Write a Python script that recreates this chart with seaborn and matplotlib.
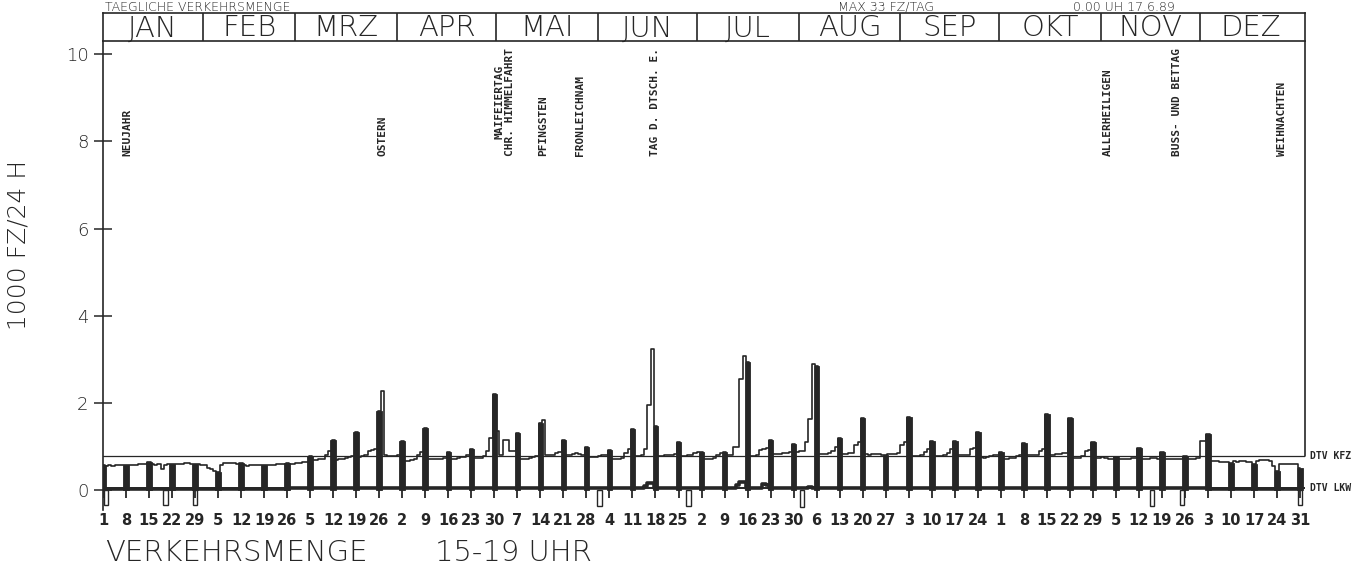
import numpy as np
import pandas as pd
import matplotlib
matplotlib.use("Agg")
import matplotlib.pyplot as plt
import seaborn as sns

# Verkehrsmenge 15-19 Uhr, 1989, in 1000 Fz
neujahr_kfz = 0.57
kfz_wochen = [  # Mo    Di    Mi    Do    Fr    Sa    So
    [0.56, 0.57, 0.56, 0.57, 0.58, 0.57, 0.57],  # Jan 2-8
    [0.58, 0.57, 0.59, 0.60, 0.61, 0.60, 0.66],
    [0.60, 0.59, 0.61, 0.50, 0.58, 0.60, 0.60],
    [0.60, 0.61, 0.60, 0.62, 0.63, 0.61, 0.60],
    [0.60, 0.58, 0.57, 0.52, 0.50, 0.44, 0.42],
    [0.58, 0.62, 0.62, 0.63, 0.62, 0.60, 0.62],
    [0.57, 0.56, 0.58, 0.59, 0.58, 0.57, 0.57],
    [0.57, 0.58, 0.59, 0.60, 0.61, 0.60, 0.63],
    [0.60, 0.61, 0.62, 0.63, 0.64, 0.66, 0.78],
    [0.70, 0.70, 0.71, 0.72, 0.80, 0.90, 1.15],
    [0.70, 0.71, 0.73, 0.74, 0.76, 0.78, 1.33],
    [0.76, 0.78, 0.80, 0.90, 0.92, 0.95, 1.82],  # Ostern
    [2.27, 0.80, 0.78, 0.78, 0.78, 0.80, 1.13],
    [0.68, 0.68, 0.70, 0.72, 0.80, 0.88, 1.43],
    [0.72, 0.72, 0.71, 0.72, 0.72, 0.74, 0.88],
    [0.72, 0.72, 0.74, 0.76, 0.76, 0.80, 0.95],
    [0.74, 0.74, 0.75, 0.78, 0.90, 1.21, 2.20],
    [1.35, 0.80, 1.16, 1.16, 0.90, 0.90, 1.31],
    [0.72, 0.72, 0.73, 0.74, 0.76, 0.78, 1.55],  # Pfingsten
    [1.62, 0.80, 0.80, 0.82, 0.86, 0.88, 1.15],
    [0.82, 0.82, 0.84, 0.86, 0.84, 0.82, 1.00],
    [0.76, 0.76, 0.77, 0.78, 0.80, 0.82, 0.93],
    [0.72, 0.72, 0.73, 0.74, 0.86, 0.95, 1.40],
    [0.78, 0.78, 0.80, 0.95, 1.96, 3.25, 1.47],  # 17. Juni
    [0.78, 0.78, 0.80, 0.80, 0.82, 0.84, 1.10],
    [0.78, 0.78, 0.80, 0.82, 0.85, 0.88, 0.88],
    [0.72, 0.72, 0.73, 0.74, 0.80, 0.86, 0.87],
    [0.80, 0.82, 1.00, 1.00, 2.56, 3.09, 2.95],
    [0.78, 0.78, 0.80, 0.92, 0.95, 0.96, 1.15],
    [0.83, 0.83, 0.84, 0.85, 0.86, 0.87, 1.07],
    [0.88, 0.90, 0.90, 1.10, 1.64, 2.90, 2.85],
    [0.83, 0.83, 0.84, 0.85, 0.90, 1.00, 1.20],
    [0.84, 0.84, 0.85, 0.86, 1.05, 1.10, 1.65],
    [0.83, 0.82, 0.83, 0.84, 0.83, 0.82, 0.82],
    [0.83, 0.83, 0.84, 0.85, 1.05, 1.10, 1.68],
    [0.78, 0.78, 0.79, 0.80, 0.88, 0.95, 1.13],
    [0.78, 0.78, 0.78, 0.80, 0.86, 0.95, 1.13],
    [0.80, 0.80, 0.81, 0.82, 0.95, 0.97, 1.34],
    [0.76, 0.75, 0.76, 0.78, 0.80, 0.82, 0.87],
    [0.73, 0.73, 0.74, 0.75, 0.78, 0.80, 1.08],
    [0.80, 0.80, 0.80, 0.82, 0.90, 0.95, 1.75],
    [0.82, 0.82, 0.83, 0.84, 0.85, 0.86, 1.65],
    [0.74, 0.74, 0.75, 0.78, 0.90, 0.93, 1.10],
    [0.74, 0.74, 0.76, 0.74, 0.73, 0.72, 0.77],
    [0.72, 0.72, 0.72, 0.73, 0.74, 0.74, 0.97],
    [0.72, 0.72, 0.72, 0.74, 0.75, 0.72, 0.87],
    [0.71, 0.71, 0.72, 0.72, 0.72, 0.72, 0.78],
    [0.71, 0.71, 0.72, 0.74, 1.14, 1.14, 1.30],
    [0.67, 0.68, 0.67, 0.66, 0.66, 0.64, 0.63],
    [0.67, 0.66, 0.67, 0.67, 0.66, 0.65, 0.60],
    [0.68, 0.69, 0.70, 0.70, 0.68, 0.56, 0.44],
    [0.60, 0.61, 0.61, 0.61, 0.61, 0.60, 0.52],  # Dez 25-31
]

neujahr_lkw = 0.03
lkw_wochen = [0.04, 0.04, 0.04, 0.04, 0.04, 0.04, 0.04, 0.04, 0.05, 0.05,
              0.05, 0.05, 0.05, 0.05, 0.05, 0.05, 0.06, 0.05, 0.05, 0.05,
              0.05, 0.05, 0.05, 0.05, 0.05, 0.05, 0.05, 0.05, 0.05, 0.05,
              0.05, 0.05, 0.05, 0.05, 0.05, 0.05, 0.05, 0.05, 0.05, 0.05,
              0.05, 0.05, 0.05, 0.05, 0.05, 0.05, 0.05, 0.05, 0.04, 0.04,
              0.04, 0.04]
lkw_spitzen = {166: 0.10, 167: 0.16, 168: 0.18, 194: 0.12, 195: 0.19,
               196: 0.20, 202: 0.14, 203: 0.12, 216: 0.08}

dtv_kfz = 0.78
dtv_lkw = 0.05

# Tage ohne Messwert (Kaesten unter der Nulllinie)
luecken_tag = [1.9, 20, 29, 152, 179, 213.5, 320, 329, 365]
luecken_wert = [-0.33, -0.33, -0.33, -0.35, -0.35, -0.37, -0.35, -0.33, -0.33]

feiertag_namen = ["NEUJAHR", "OSTERN", "MAIFEIERTAG\nCHR. HIMMELFAHRT",
                  "PFINGSTEN", "FRONLEICHNAM", "TAG D. DTSCH. E.",
                  "ALLERHEILIGEN", "BUSS- UND BETTAG", "WEIHNACHTEN"]
feiertag_pos = [8.3, 86.1, 123.2, 134.8, 146.0, 168.8, 306.6, 327.6, 359.5]

monate = ["JAN", "FEB", "MRZ", "APR", "MAI", "JUN",
          "JUL", "AUG", "SEP", "OKT", "NOV", "DEZ"]

# Tagesreihen zusammenbauen
dates = pd.date_range("1989-01-01", "1989-12-31", freq="D")
day = np.arange(1, len(dates) + 1)
kfz = np.array([neujahr_kfz] + [v for w in kfz_wochen for v in w])
lkw = np.array([neujahr_lkw] + [v for v in lkw_wochen for _ in range(7)])
for d, v in lkw_spitzen.items():
    lkw[d - 1] = v
sonntage = day[dates.dayofweek == 6]
sonntag_labels = [str(d.day) for d in dates[dates.dayofweek == 6]]
monat_start = list(day[dates.is_month_start]) + [366]

INK = "#262626"
LIGHT = dict(family="DejaVu Sans", weight="light", color=INK)
MONO = dict(family="DejaVu Sans Mono", weight="bold", color=INK)

sns.set_style("white")
plt.rcParams["font.family"] = ["DejaVu Sans"]

W, H = 1359, 567
fig = plt.figure(figsize=(W / 100, H / 100), dpi=100)
ax = fig.add_axes([103 / W, 1 - 510 / H, 1202 / W, 469 / H])
ax_h = fig.add_axes([103 / W, 1 - 41 / H, 1202 / W, 28 / H])

XL = (1.0, 366.5)
ax.set_xlim(*XL)
ax.set_ylim(-0.45, 10.3)

# Kfz-Tageswerte als Treppenlinie, Sonntage als volle Balken
sns.lineplot(x=day, y=kfz, drawstyle="steps-mid", color=INK, lw=1.2, ax=ax)
ax.bar(sonntage, kfz[sonntage - 1], width=1.7, color=INK, edgecolor=INK, lw=0.6)
sns.lineplot(x=day, y=lkw, drawstyle="steps-mid", color=INK, lw=2.6, ax=ax)
ax.bar(luecken_tag, luecken_wert, width=1.3, fill=False, edgecolor=INK, lw=1.0)

ax.plot(XL, [dtv_kfz, dtv_kfz], color=INK, lw=0.9)
ax.plot(XL, [dtv_lkw, dtv_lkw], color=INK, lw=1.4)
ax.plot([XL[1], XL[1]], [dtv_kfz, 10.3], color=INK, lw=1.2, clip_on=False)
ax.vlines(sonntage, -0.17, 0, color=INK, lw=1.3)

ax.text(XL[1] + 1.5, dtv_kfz, "DTV KFZ", ha="left", va="center",
        fontsize=7, clip_on=False, **MONO)
ax.text(XL[1] + 1.5, dtv_lkw, "DTV LKW", ha="left", va="center",
        fontsize=7, clip_on=False, **MONO)

for name, pos in zip(feiertag_namen, feiertag_pos):
    ax.text(pos, 7.67, name, rotation=90, ha="center", va="bottom",
            fontsize=8, linespacing=1.0, **MONO)

for s in ["top", "right", "bottom"]:
    ax.spines[s].set_visible(False)
ax.spines["left"].set_color(INK)
ax.spines["left"].set_linewidth(1.2)

ax.set_yticks([0, 2, 4, 6, 8, 10])
ax.set_yticklabels(["0", "2", "4", "6", "8", "10"])
ax.tick_params(axis="y", left=True, direction="inout", length=13, width=1.1,
               color=INK, pad=4)
for t in ax.get_yticklabels():
    t.set_fontsize(13)
    t.set_fontweight("light")
    t.set_color(INK)

ax.set_xticks(sonntage)
ax.set_xticklabels(sonntag_labels)
ax.tick_params(axis="x", bottom=False, length=0, pad=2)
for t in ax.get_xticklabels():
    t.set_family("DejaVu Sans")
    t.set_fontweight("bold")
    t.set_fontsize(10.5)
    t.set_color(INK)

ax.set_xlabel("")
ax.set_ylabel("")
fig.text(19 / W, 1 - 245 / H, "1000 FZ/24 H", rotation=90, ha="center",
         va="center", fontsize=18, **LIGHT)

# Monatskopf
ax_h.set_xlim(*XL)
ax_h.set_ylim(0, 1)
ax_h.set_xticks([])
ax_h.set_yticks([])
for s in ax_h.spines.values():
    s.set_color(INK)
    s.set_linewidth(1.2)
for a, b, m in zip(monat_start[:-1], monat_start[1:], monate):
    if a > 1:
        ax_h.axvline(a - 0.5, color=INK, lw=1.2)
    ax_h.text((a + b) / 2 - 0.5, 0.45, m, ha="center", va="center",
              fontsize=21, **LIGHT)

# Titelzeilen (im Scan oben angeschnitten, hier verkleinert)
fig.text(105 / W, 1 - 11 / H, "TAEGLICHE VERKEHRSMENGE", va="baseline",
         fontsize=9, **LIGHT)
fig.text(838 / W, 1 - 11 / H, "MAX 33 FZ/TAG", va="baseline",
         fontsize=9, **LIGHT)
fig.text(1073 / W, 1 - 11 / H, "0.00 UH 17.6.89", va="baseline",
         fontsize=9, **LIGHT)

fig.text(105 / W, 1 - 553 / H, "VERKEHRSMENGE", va="center",
         fontsize=21, **LIGHT)
fig.text(435 / W, 1 - 553 / H, "15-19 UHR", va="center",
         fontsize=21, **LIGHT)

fig.savefig("out.png", dpi=100, facecolor="white")
